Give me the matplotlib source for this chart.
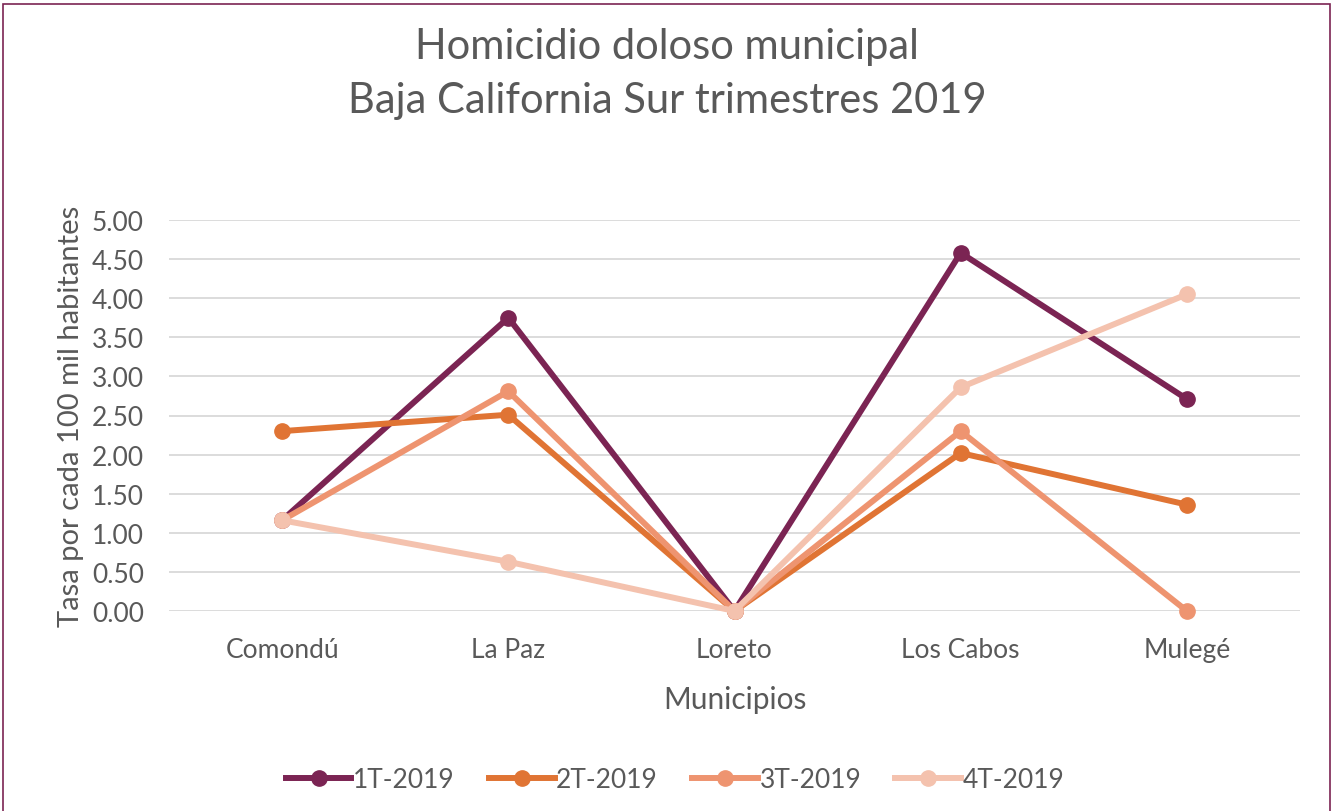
import matplotlib
matplotlib.use("Agg")
import matplotlib.pyplot as plt
from matplotlib.patches import Rectangle

categories = ["Comondú", "La Paz", "Loreto", "Los Cabos", "Mulegé"]
series_names = ["1T-2019", "2T-2019", "3T-2019", "4T-2019"]
t1 = [1.16, 3.75, 0.00, 4.58, 2.71]
t2 = [2.30, 2.51, 0.00, 2.02, 1.36]
t3 = [1.16, 2.81, 0.00, 2.30, 0.00]
t4 = [1.16, 0.63, 0.00, 2.86, 4.05]
colors = ["#7B2453", "#E07434", "#EE9470", "#F4C2AE"]
yticks = [0, 0.5, 1, 1.5, 2, 2.5, 3, 3.5, 4, 4.5, 5]

plt.rcParams['font.family'] = ['Lato', 'DejaVu Sans']
txt = "#595959"

fig = plt.figure(figsize=(13.34, 8.12), dpi=100)
ax = fig.add_axes([169/1334, (812-612)/812, (1300-169)/1334, (612-221)/812])

x = list(range(len(categories)))
for vals, name, c in zip([t1, t2, t3, t4], series_names, colors):
    ax.plot(x, vals, color=c, lw=4.3, marker='o', markersize=11, label=name,
            solid_joinstyle='miter', clip_on=False)

ax.set_xlim(-0.5, len(categories) - 0.5)
ax.set_ylim(0, 5)
ax.set_yticks(yticks)
ax.set_yticklabels([f"{v:.2f}" for v in yticks])
ax.set_xticks(x)
ax.set_xticklabels(categories)
ax.yaxis.grid(True, color="#D9D9D9", lw=1.3)
ax.set_axisbelow(True)
for s in ax.spines.values():
    s.set_visible(False)
ax.tick_params(axis='both', length=0, labelsize=19, colors=txt)
ax.tick_params(axis='y', pad=18)
ax.tick_params(axis='x', pad=19)
ax.set_xlabel("Municipios", fontsize=21.5, color=txt, labelpad=16)
ax.set_ylabel("Tasa por cada 100 mil habitantes", fontsize=21, color=txt, labelpad=6)

fig.text(0.5, 1 - 47/812, "Homicidio doloso municipal", ha='center', va='center',
         fontsize=30, color=txt)
fig.text(0.5, 1 - 101/812, "Baja California Sur trimestres 2019", ha='center', va='center',
         fontsize=30, color=txt)

leg = fig.legend(loc='center', bbox_to_anchor=(0.506, 1 - 781/812), ncol=4, frameon=False,
                 fontsize=19, handlelength=2.5, columnspacing=1.3, handletextpad=0.05)
for t in leg.get_texts():
    t.set_color(txt)

fig.patches.append(Rectangle((3/1334, -0.1), 1327/1334, 1.1 - 5/812, transform=fig.transFigure,
                             fill=False, edgecolor="#7B2453", lw=1.2))

fig.savefig("out.png", dpi=100)
